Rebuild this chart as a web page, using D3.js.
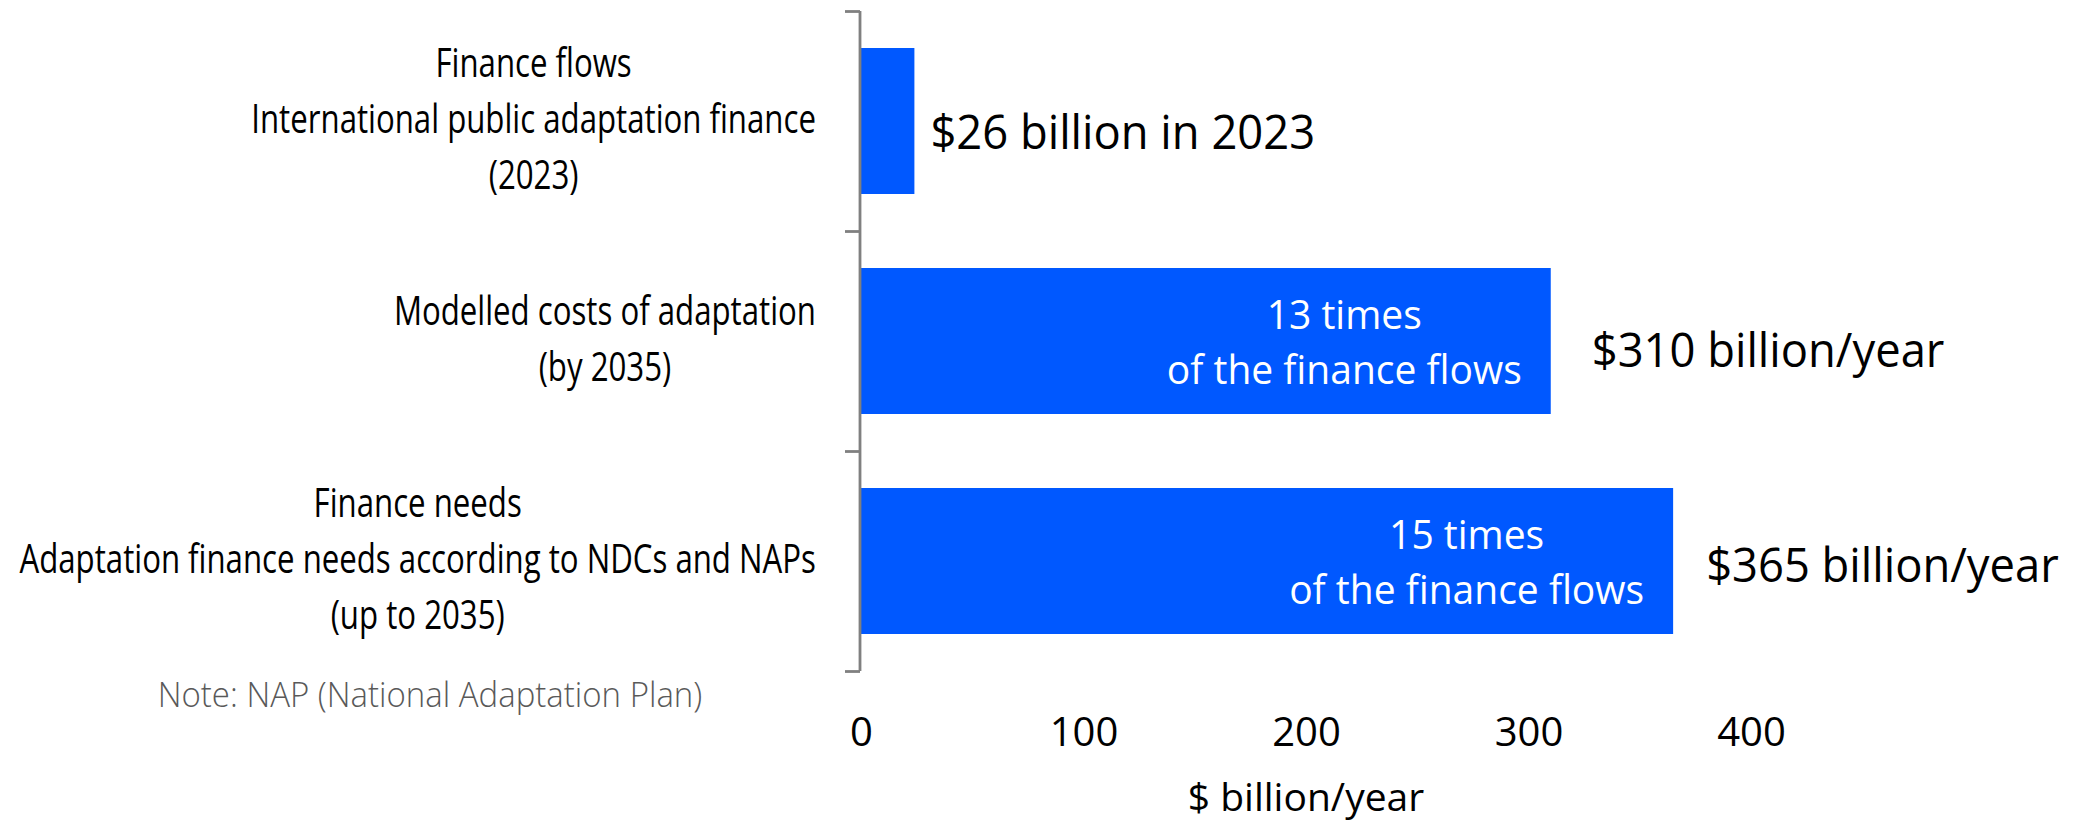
<!DOCTYPE html>
<html>
<head>
<meta charset="utf-8">
<script src="https://cdn.jsdelivr.net/npm/d3@7"></script>
<style>
  html, body { margin: 0; padding: 0; background: #ffffff; }
  svg { display: block; }
  text { font-family: "Open Sans", "Noto Sans", sans-serif; }
</style>
</head>
<body>
<svg id="chart" width="2076" height="822"></svg>
<script>
// ---------- data ----------
const categoryLines = [
  ["Finance flows", "International public adaptation finance", "(2023)"],
  ["Modelled costs of adaptation", "(by 2035)"],
  ["Finance needs", "Adaptation finance needs according to NDCs and NAPs", "(up to 2035)"]
];
const values = [24, 310, 365];
const valueLabels = ["$26 billion in 2023", "$310 billion/year", "$365 billion/year"];
const barNotes = [[], ["13 times", "of the finance flows"], ["15 times", "of the finance flows"]];
const xTicks = [0, 100, 200, 300, 400];
const axisTitle = "$ billion/year";
const noteText = "Note: NAP (National Adaptation Plan)";

// ---------- layout / style ----------
const W = 2076, H = 822;
const barColor = "#0058ff";
const axisColor = "#808080";
const labelGap = [16, 41, 33];      // gap between bar end and value label
const labelDy = [28, 26, 21];       // baseline offset from bar centre
const condense = 0.78;              // horizontal compression of category labels
const valueCondense = 0.965;
const noteCondense = 0.97;

const svg = d3.select("#chart");

const x = d3.scaleLinear().domain([0, 400]).range([861, 1751]);
const y = d3.scaleBand().domain(d3.range(values.length)).range([11, 671])
  .paddingInner(0.3364).paddingOuter(0.1682);
const yEdge = d3.scaleLinear().domain([0, values.length]).range([11, 671]);

// bars
svg.append("g").selectAll("rect").data(values).join("rect")
  .attr("x", x(0))
  .attr("y", (d, i) => y(i))
  .attr("width", d => x(d) - x(0))
  .attr("height", y.bandwidth())
  .attr("fill", barColor);

// y axis (band boundaries)
const yAxis = svg.append("g").attr("transform", "translate(860,0)")
  .call(d3.axisLeft(yEdge).tickValues(d3.range(values.length + 1)).tickSize(15).tickFormat(""));
yAxis.selectAll("path, line").attr("stroke", axisColor).attr("stroke-width", 2.8);
yAxis.select(".domain").attr("d", `M0,${yEdge(0)}V${yEdge(values.length)}`);

// x axis (labels only)
const xAxis = svg.append("g").attr("transform", "translate(0,700)")
  .call(d3.axisBottom(x).tickValues(xTicks).tickSize(0).tickFormat(d3.format("d")));
xAxis.select(".domain").remove();
xAxis.selectAll("text")
  .attr("y", 32).attr("dy", "0.35em")
  .attr("fill", "#000").style("font-size", "40px")
  .style("font-family", "'Open Sans', sans-serif");

// axis title
svg.append("text")
  .attr("x", (x.range()[0] + x.range()[1]) / 2)
  .attr("y", 811)
  .attr("text-anchor", "middle")
  .style("font-size", "39px")
  .attr("fill", "#000")
  .text(axisTitle);

// category labels: block right-aligned at 816, lines centred within block
const labelRight = 816;
categoryLines.forEach((lines, i) => {
  const cy = y(i) + y.bandwidth() / 2;
  const g = svg.append("g");
  const texts = g.selectAll("text").data(lines).join("text")
    .style("font-size", "40px")
    .attr("fill", "#000")
    .attr("text-anchor", "middle")
    .attr("y", (d, k) => cy + 12 + (k - (lines.length - 1) / 2) * 56)
    .text(d => d);
  let maxW = 0;
  texts.each(function () { maxW = Math.max(maxW, this.getComputedTextLength()); });
  const blockW = maxW * condense;
  const cx = labelRight - blockW / 2;
  texts.attr("x", 0).attr("transform", `translate(${cx},0) scale(${condense},1)`);
});

// value labels right of bars
svg.append("g").selectAll("text").data(values).join("text")
  .attr("x", 0).attr("y", 0)
  .attr("transform", (d, i) =>
    `translate(${x(d) + labelGap[i]},${y(i) + y.bandwidth() / 2 + labelDy[i]}) scale(${valueCondense},1)`)
  .style("font-size", "47px")
  .attr("fill", "#000")
  .text((d, i) => valueLabels[i]);

// notes inside bars: block right-aligned near bar end, lines centred
barNotes.forEach((lines, i) => {
  if (!lines.length) return;
  const cy = y(i) + y.bandwidth() / 2;
  const g = svg.append("g");
  const texts = g.selectAll("text").data(lines).join("text")
    .style("font-size", "40px")
    .attr("fill", "#fff")
    .attr("text-anchor", "middle")
    .attr("y", (d, k) => cy + 16 + (k - (lines.length - 1) / 2) * 55)
    .text(d => d);
  let maxW = 0;
  texts.each(function () { maxW = Math.max(maxW, this.getComputedTextLength()); });
  const sc = 0.975;
  const right = x(values[i]) - 29;
  const cx = right - maxW * sc / 2;
  texts.attr("x", 0).attr("transform", `translate(${cx},0) scale(${sc},1)`);
});

// footnote
svg.append("text")
  .attr("x", 0).attr("y", 0)
  .attr("transform", `translate(430,707) scale(${noteCondense},1)`)
  .attr("text-anchor", "middle")
  .style("font-size", "34px")
  .style("font-weight", 300)
  .attr("fill", "#595959")
  .text(noteText);
</script>
</body>
</html>
